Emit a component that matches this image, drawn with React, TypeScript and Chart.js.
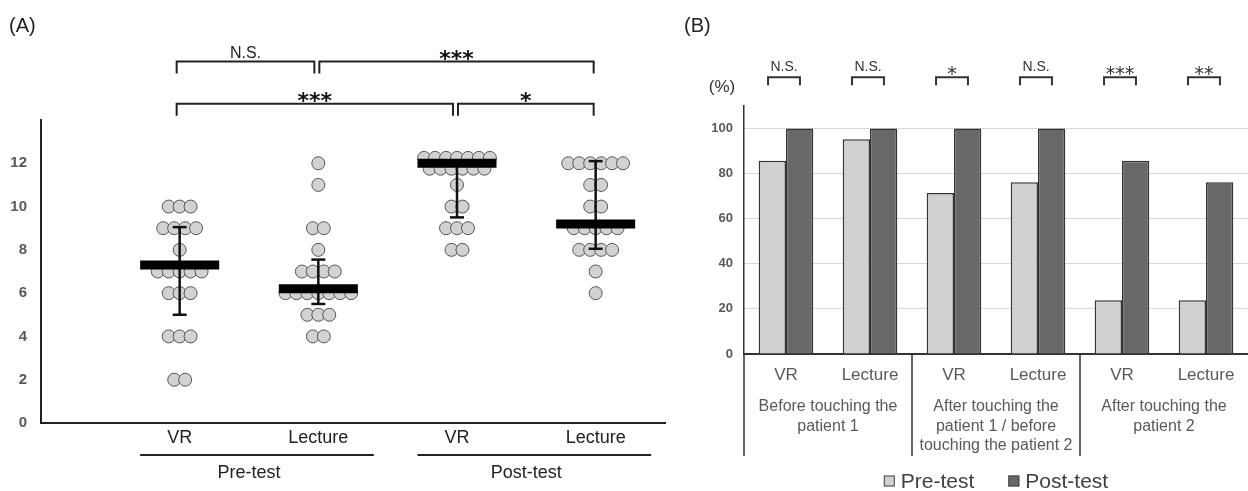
import React, { useEffect, useRef } from 'react';
import { Chart, registerables } from 'chart.js';

Chart.register(...registerables);

const FONT = "'Liberation Sans', Arial, Helvetica, sans-serif";
const STAR_FONT = "'DejaVu Sans', sans-serif";

// ---------------- Panel A data ----------------
const categoriesA = ['VR', 'Lecture', 'VR', 'Lecture'];
const phasesA = ['Pre-test', 'Post-test'];
const vrPre = [10, 10, 10, 9, 9, 9, 9, 8, 7, 7, 7, 7, 7, 6, 6, 6, 4, 4, 4, 2, 2];
const lecturePre = [12, 11, 9, 9, 8, 7, 7, 7, 7, 6, 6, 6, 6, 6, 6, 6, 5, 5, 5, 4, 4];
const vrPost = [12, 12, 12, 12, 12, 12, 12, 12, 12, 12, 12, 12, 12, 11, 10, 10, 9, 9, 9, 8, 8];
const lecturePost = [12, 12, 12, 12, 12, 12, 11, 11, 10, 10, 9, 9, 9, 9, 9, 8, 8, 8, 8, 7, 6];
const meansA = [7.3, 6.2, 12.0, 9.2];
const errLowA = [5.0, 5.5, 9.5, 8.05];
const errHighA = [9.05, 7.55, 12.0, 12.1];
const yTicksA = [0, 2, 4, 6, 8, 10, 12];
// comparisons: [from category (1-based), to category, tier (1 = upper), label]
const compA: [number, number, number, string][] = [
  [1, 2, 1, 'N.S.'],
  [2, 4, 1, '***'],
  [1, 3, 0, '***'],
  [3, 4, 0, '*'],
];

// ---------------- Panel B data ----------------
const categoriesB = ['VR', 'Lecture', 'VR', 'Lecture', 'VR', 'Lecture'];
const phaseGroupsB = [
  ['Before touching the', 'patient 1'],
  ['After touching the', 'patient 1 / before', 'touching the patient 2'],
  ['After touching the', 'patient 2'],
];
const preB = [85.7, 95.2, 71.4, 76.2, 23.8, 23.8];
const postB = [100, 100, 100, 100, 85.7, 76.2];
const sigB = ['N.S.', 'N.S.', '*', 'N.S.', '***', '**'];
const yTicksB = [0, 20, 40, 60, 80, 100];
const seriesB = ['Pre-test', 'Post-test'];

// beeswarm layout of individual scores
function swarm(values: number[], center: number, step: number, maxPerRow: number, rowGap: number) {
  const order: number[] = [];
  const counts = new Map<number, number>();
  values.forEach((v) => {
    if (!counts.has(v)) order.push(v);
    counts.set(v, (counts.get(v) || 0) + 1);
  });
  const pts: { x: number; y: number }[] = [];
  order.forEach((v) => {
    const n = counts.get(v) || 0;
    const rows = Math.ceil(n / maxPerRow);
    let remaining = n;
    for (let r = 0; r < rows; r++) {
      const inRow = Math.ceil(remaining / (rows - r));
      remaining -= inRow;
      const dy = rows > 1 ? ((rows - 1) / 2 - r) * rowGap : 0;
      for (let i = 0; i < inRow; i++) {
        pts.push({ x: center + (i - (inRow - 1) / 2) * step, y: v + dy });
      }
    }
  });
  return pts;
}

function line(ctx: CanvasRenderingContext2D, pts: [number, number][], w: number, color: string) {
  ctx.save();
  ctx.strokeStyle = color;
  ctx.lineWidth = w;
  ctx.lineCap = 'butt';
  ctx.lineJoin = 'miter';
  ctx.beginPath();
  pts.forEach(([x, y], i) => (i ? ctx.lineTo(x, y) : ctx.moveTo(x, y)));
  ctx.stroke();
  ctx.restore();
}

function text(ctx: CanvasRenderingContext2D, s: string, x: number, y: number, font: string, color: string, align: CanvasTextAlign = 'center', base: CanvasTextBaseline = 'middle') {
  ctx.save();
  ctx.font = font;
  ctx.fillStyle = color;
  ctx.textAlign = align;
  ctx.textBaseline = base;
  ctx.fillText(s, x, y);
  ctx.restore();
}

const annotA = {
  id: 'annotA',
  afterDatasetsDraw(chart: any) {
    const { ctx, scales } = chart;
    const x = scales.x;
    const y = scales.y;
    const halfBar = 0.285;
    const cap = 7;
    meansA.forEach((m, i) => {
      const c = i + 1;
      const cx = x.getPixelForValue(c);
      const lo = y.getPixelForValue(errLowA[i]);
      const hi = y.getPixelForValue(errHighA[i]);
      line(ctx, [[cx, lo], [cx, hi]], 2.5, '#111');
      line(ctx, [[cx - cap, lo], [cx + cap, lo]], 2.5, '#111');
      line(ctx, [[cx - cap, hi], [cx + cap, hi]], 2.5, '#111');
      const my = y.getPixelForValue(m);
      line(ctx, [[x.getPixelForValue(c - halfBar), my], [x.getPixelForValue(c + halfBar), my]], 9, '#000');
    });
  },
  afterDraw(chart: any) {
    const { ctx, scales } = chart;
    const x = scales.x;
    const y = scales.y;
    // panel label
    text(ctx, '(A)', 9, 26, `20px ${FONT}`, '#222', 'left');
    // significance brackets
    const tierLevel = [14.75, 16.7];
    compA.forEach(([a, b, tier, label]) => {
      const shareL = compA.some((o) => o !== compA.find((q) => q[0] === a && q[1] === b && q[2] === tier) && o[2] === tier && o[1] === a);
      const shareR = compA.some((o) => o[2] === tier && o[0] === b);
      const x1 = x.getPixelForValue(a) - 3 + (shareL ? 4 : 0);
      const x2 = x.getPixelForValue(b) - 2 - (shareR ? 2 : 0);
      const yt = y.getPixelForValue(tierLevel[tier]);
      line(ctx, [[x1, yt + 12], [x1, yt], [x2, yt], [x2, yt + 12]], 2, '#222');
      const cx = (x1 + x2) / 2;
      if (label.startsWith('*')) {
        text(ctx, label, cx, yt + 4.5, `bold 22px ${STAR_FONT}`, '#111', 'center', 'alphabetic');
      } else {
        text(ctx, label, cx, yt - 4, `16px ${FONT}`, '#222', 'center', 'alphabetic');
      }
    });
    // phase group labels under x axis
    phasesA.forEach((p, g) => {
      const c = 1.5 + g * 2;
      const yl = 455;
      line(ctx, [[x.getPixelForValue(c - 0.785), yl], [x.getPixelForValue(c + 0.9), yl]], 2, '#222');
      text(ctx, p, x.getPixelForValue(c), 473, `18px ${FONT}`, '#222');
    });
  },
};

const annotB = {
  id: 'annotB',
  afterDraw(chart: any) {
    const { ctx, scales, chartArea } = chart;
    const x = scales.x;
    const y = scales.y;
    const step = x.getPixelForValue(1) - x.getPixelForValue(0);
    text(ctx, '(B)', 4, 26, `20px ${FONT}`, '#222', 'left');
    text(ctx, '(%)', 42, 87, `17px ${FONT}`, '#333');
    // brackets
    sigB.forEach((s, i) => {
      const cx = x.getPixelForValue(i) - 2;
      const x1 = cx - step * 0.19;
      const x2 = cx + step * 0.19;
      const yt = y.getPixelForValue(122.8);
      line(ctx, [[x1, yt + 8], [x1, yt], [x2, yt], [x2, yt + 8]], 2, '#333');
      if (s.startsWith('*')) {
        text(ctx, s, cx, yt + 3, `19px ${STAR_FONT}`, '#333', 'center', 'alphabetic');
      } else {
        text(ctx, s, cx, yt - 6, `14px ${FONT}`, '#333', 'center', 'alphabetic');
      }
    });
    // group separators and labels
    const bottom = chartArea.bottom;
    const lineEnd = 456;
    line(ctx, [[chartArea.left, bottom], [chartArea.left, lineEnd]], 1.5, '#333');
    phaseGroupsB.forEach((lines, g) => {
      const a = x.getPixelForValue(g * 2);
      const b = x.getPixelForValue(g * 2 + 1);
      const right = b + step / 2;
      if (g < phaseGroupsB.length - 1) line(ctx, [[right, bottom], [right, lineEnd]], 1.5, '#333');
      lines.forEach((l, k) => text(ctx, l, (a + b) / 2, 407 + k * 19.5, `16px ${FONT}`, '#595959'));
    });
    // legend
    ctx.save();
    ctx.font = `21px ${FONT}`;
    const ds = chart.data.datasets;
    const box = 11;
    const gap = 6;
    const spacing = 34;
    const widths = ds.map((d: any) => ctx.measureText(d.label).width);
    const total = widths.reduce((s: number, w: number) => s + w + box + gap, 0) + spacing * (ds.length - 1);
    let cx = (chartArea.left + chartArea.right) / 2 - total / 2;
    const ly = 482;
    ds.forEach((d: any, i: number) => {
      ctx.fillStyle = d.backgroundColor;
      ctx.fillRect(cx, ly - box / 2 - 1, box, box);
      ctx.strokeStyle = '#444';
      ctx.lineWidth = 1;
      ctx.strokeRect(cx + 0.5, ly - box / 2 - 0.5, box - 1, box - 1);
      ctx.fillStyle = '#404040';
      ctx.textAlign = 'left';
      ctx.textBaseline = 'middle';
      ctx.fillText(d.label, cx + box + gap, ly);
      cx += box + gap + widths[i] + spacing;
    });
    ctx.restore();
  },
};

export default function App() {
  const refA = useRef<HTMLCanvasElement>(null);
  const refB = useRef<HTMLCanvasElement>(null);

  useEffect(() => {
    Chart.defaults.font.family = FONT;
    const groupsA = [vrPre, lecturePre, vrPost, lecturePost];
    const chartA = new Chart(refA.current as HTMLCanvasElement, {
      type: 'scatter',
      data: {
        datasets: groupsA.map((vals, i) => ({
          label: categoriesA[i],
          data: swarm(vals, i + 1, 0.079, 7, 0.5),
          pointRadius: 6.5,
          pointBackgroundColor: '#d2d2d2',
          pointBorderColor: '#555',
          pointBorderWidth: 1,
          showLine: false,
        })),
      },
      options: {
        animation: false,
        responsive: false,
        devicePixelRatio: 1,
        layout: { padding: { top: 120, right: 15, bottom: 0, left: 0 } },
        plugins: { legend: { display: false }, tooltip: { enabled: false } },
        scales: {
          x: {
            type: 'linear',
            min: 0,
            max: 4.5,
            grid: { display: false, drawTicks: false },
            border: { display: true, color: '#222', width: 2 },
            afterBuildTicks: (s: any) => {
              s.ticks = categoriesA.map((_, i) => ({ value: i + 1 }));
            },
            afterFit: (s: any) => {
              s.height = 68;
            },
            ticks: {
              padding: 4,
              color: '#222',
              font: { size: 18, family: FONT },
              callback: (v: any) => categoriesA[Math.round(Number(v)) - 1] ?? '',
            },
          },
          y: {
            type: 'linear',
            min: 0,
            max: 14,
            grid: { display: false, drawTicks: false },
            border: { display: true, color: '#222', width: 2 },
            afterBuildTicks: (s: any) => {
              s.ticks = yTicksA.map((v) => ({ value: v }));
            },
            afterFit: (s: any) => {
              s.width = 41;
            },
            ticks: {
              padding: 14,
              color: '#595959',
              font: { size: 15, weight: 'bold', family: FONT },
            },
          },
        },
      } as any,
      plugins: [annotA],
    });

    const chartB = new Chart(refB.current as HTMLCanvasElement, {
      type: 'bar',
      data: {
        labels: categoriesB,
        datasets: [
          { label: seriesB[0], data: preB, backgroundColor: '#d0d0d0', borderColor: '#333', borderWidth: 1.5 },
          { label: seriesB[1], data: postB, backgroundColor: '#686868', borderColor: '#333', borderWidth: 1.5 },
        ],
      },
      options: {
        animation: false,
        responsive: false,
        devicePixelRatio: 1,
        layout: { padding: { top: 106, right: 0, bottom: 0, left: 0 } },
        datasets: { bar: { categoryPercentage: 0.65, barPercentage: 1 } },
        plugins: { legend: { display: false }, tooltip: { enabled: false } },
        scales: {
          x: {
            grid: { display: false, drawTicks: false },
            border: { display: true, color: '#333', width: 2 },
            afterFit: (s: any) => {
              s.height = 137;
            },
            ticks: {
              padding: 11,
              color: '#595959',
              font: { size: 17, family: FONT },
              maxRotation: 0,
            },
          },
          y: {
            min: 0,
            max: 110,
            grid: { color: '#d9d9d9', lineWidth: 1, drawTicks: false },
            border: { display: true, color: '#333', width: 1.5 },
            afterBuildTicks: (s: any) => {
              s.ticks = yTicksB.map((v) => ({ value: v }));
            },
            afterFit: (s: any) => {
              s.width = 64;
            },
            ticks: {
              padding: 11,
              color: '#595959',
              font: { size: 13, weight: 'bold', family: FONT },
            },
          },
        },
      } as any,
      plugins: [annotB],
    });

    return () => {
      chartA.destroy();
      chartB.destroy();
    };
  }, []);

  return (
    <div style={{ position: 'absolute', left: 0, top: 0, width: 1248, height: 491, background: '#fff', overflow: 'hidden' }}>
      <canvas ref={refA} width={680} height={491} style={{ position: 'absolute', left: 0, top: 0, width: 680, height: 491 }} />
      <canvas ref={refB} width={568} height={491} style={{ position: 'absolute', left: 680, top: 0, width: 568, height: 491 }} />
    </div>
  );
}
